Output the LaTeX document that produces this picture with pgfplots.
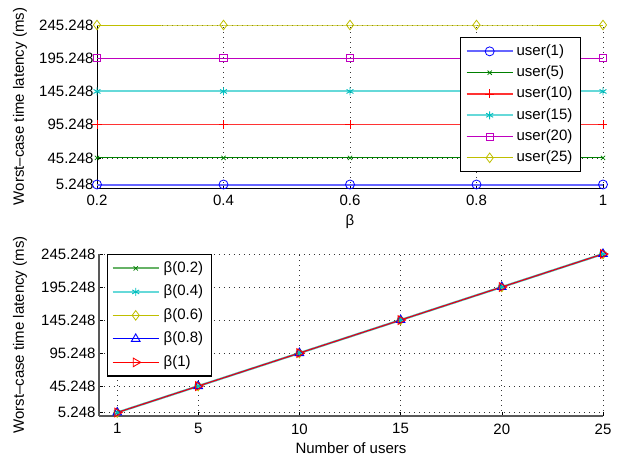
\documentclass[border=0pt]{standalone}
\usepackage{fontspec}
\setmainfont{Liberation Sans}
\usepackage{pgfplots}
\pgfplotsset{compat=1.18}
\definecolor{mblue}{rgb}{0,0,1}
\definecolor{mgreen}{rgb}{0,0.5,0}
\definecolor{mred}{rgb}{1,0,0}
\definecolor{mcyan}{rgb}{0,0.75,0.75}
\definecolor{mmag}{rgb}{0.75,0,0.75}
\definecolor{molive}{rgb}{0.75,0.75,0}
\pgfplotsset{
  mystyle/.style={
    scale only axis,
    font=\fontsize{15}{18}\selectfont,
    tick label style={font=\fontsize{15}{18}\selectfont},
    label style={font=\fontsize{15}{18}\selectfont},
    xticklabel style={yshift=-4pt},
    /pgf/number format/assume math mode=true,
    axis x line*=bottom, axis y line*=left,
    axis line style={-},
    tick align=inside, major tick length=4pt,
    tick style={black, line width=0.5pt},
    grid=major,
    major grid style={black!80, line width=0.6pt, dash pattern=on 0.6pt off 4.4pt},
    ymin=0, ymax=245.248,
    ytick={5.248,45.248,95.248,145.248,195.248,245.248},
    yticklabels={5.248,45.248,95.248,145.248,195.248,245.248},
    ylabel={Worst--case time latency (ms)},
    clip=false,
    legend cell align=left,
    legend image code/.code={%
      \draw[mark repeat=2,mark phase=2] plot coordinates {(0pt,0pt) (23pt,0pt) (46pt,0pt)};},
  },
}
\begin{document}
\begin{tikzpicture}
\useasboundingbox (0,0) rectangle (619pt,462pt);
% top axis
\begin{axis}[mystyle,
  at={(97pt,274pt)}, anchor=south west,
  width=506pt, height=163pt,
  xmin=0.2, xmax=1,
  xtick={0.2,0.4,0.6,0.8,1},
  xticklabels={0.2,0.4,0.6,0.8,1},
  xlabel={β},
  xlabel style={yshift=-2pt},
  ylabel style={at={(axis description cs:0,0.5)}, anchor=center, yshift=77pt},
  axis line style={black, line width=0.7pt},
  legend style={at={(axis description cs:0.9565,0.926)}, anchor=north east,
    draw=black, line width=1.3pt, fill=white,
    font=\fontsize{15}{18}\selectfont,
    nodes={inner sep=2.9pt, text height=11.5pt, text depth=4pt},
    row sep=0pt, inner xsep=5pt, inner ysep=3pt},
]
\addplot[color=mblue!60, line width=2pt, mark=o, mark size=4.5pt, mark options={mblue, line width=0.8pt}]
  coordinates {(0.2,5.248) (0.4,5.248) (0.6,5.248) (0.8,5.248) (1,5.248)};
\addlegendentry{user(1)}
\addplot[color=mgreen, line width=0.9pt, mark=x, mark size=3pt, mark options={mgreen, line width=0.8pt}]
  coordinates {(0.2,45.248) (0.4,45.248) (0.6,45.248) (0.8,45.248) (1,45.248)};
\addlegendentry{user(5)}
\addplot[color=mred!80, line width=1.3pt, mark=+, mark size=4.5pt, mark options={mred, line width=0.8pt}]
  coordinates {(0.2,95.248) (0.4,95.248) (0.6,95.248) (0.8,95.248) (1,95.248)};
\addlegendentry{user(10)}
\addplot[color=mcyan!60, line width=2pt, mark=asterisk, mark size=4pt, mark options={mcyan, line width=0.9pt}]
  coordinates {(0.2,145.248) (0.4,145.248) (0.6,145.248) (0.8,145.248) (1,145.248)};
\addlegendentry{user(15)}
\addplot[color=mmag, line width=0.9pt, mark=square, mark size=3.6pt, mark options={mmag, line width=0.8pt}]
  coordinates {(0.2,195.248) (0.4,195.248) (0.6,195.248) (0.8,195.248) (1,195.248)};
\addlegendentry{user(20)}
\addplot[color=molive, line width=0.9pt, mark=diamond, mark size=4.8pt, mark options={molive, line width=0.8pt}]
  coordinates {(0.2,245.248) (0.4,245.248) (0.6,245.248) (0.8,245.248) (1,245.248)};
\addlegendentry{user(25)}
\end{axis}
% bottom axis
\begin{axis}[mystyle,
  at={(99pt,46pt)}, anchor=south west,
  width=504pt, height=162pt,
  xmin=0.1, xmax=25,
  xtick={1,5,10,15,20,25},
  xticklabels={1,5,10,15,20,25},
  xlabel={Number of users},
  xlabel style={yshift=-2pt},
  ylabel style={at={(axis description cs:0,0.5)}, anchor=center, yshift=79pt},
  axis line style={black!65, line width=1.3pt},
  legend style={at={(axis description cs:0.016,1)}, anchor=north west,
    draw=black, line width=1.3pt, fill=white,
    font=\fontsize{15}{18}\selectfont,
    nodes={inner sep=4pt, text height=11.5pt, text depth=4pt},
    row sep=0pt, inner xsep=4pt, inner ysep=2pt},
]
\addplot[color=mgreen!60, line width=2pt, mark=x, mark size=3pt, mark options={mgreen, line width=0.8pt}]
  coordinates {(1,5.248) (5,45.248) (10,95.248) (15,145.248) (20,195.248) (25,245.248)};
\addlegendentry{β(0.2)}
\addplot[color=mcyan!60, line width=2pt, mark=asterisk, mark size=4pt, mark options={mcyan, line width=0.9pt}]
  coordinates {(1,5.248) (5,45.248) (10,95.248) (15,145.248) (20,195.248) (25,245.248)};
\addlegendentry{β(0.4)}
\addplot[color=molive, line width=0.9pt, mark=diamond, mark size=4.8pt, mark options={molive, line width=0.8pt}]
  coordinates {(1,5.248) (5,45.248) (10,95.248) (15,145.248) (20,195.248) (25,245.248)};
\addlegendentry{β(0.6)}
\addplot[color=mblue, line width=0.9pt, mark=triangle, mark size=5pt, mark options={mblue, line width=0.9pt}]
  coordinates {(1,5.248) (5,45.248) (10,95.248) (15,145.248) (20,195.248) (25,245.248)};
\addlegendentry{β(0.8)}
\addplot[color=mred, line width=0.9pt, mark=triangle, mark size=5pt, mark options={mred, line width=0.9pt, rotate=-90}]
  coordinates {(1,5.248) (5,45.248) (10,95.248) (15,145.248) (20,195.248) (25,245.248)};
\addlegendentry{β(1)}
\end{axis}
\end{tikzpicture}
\end{document}
